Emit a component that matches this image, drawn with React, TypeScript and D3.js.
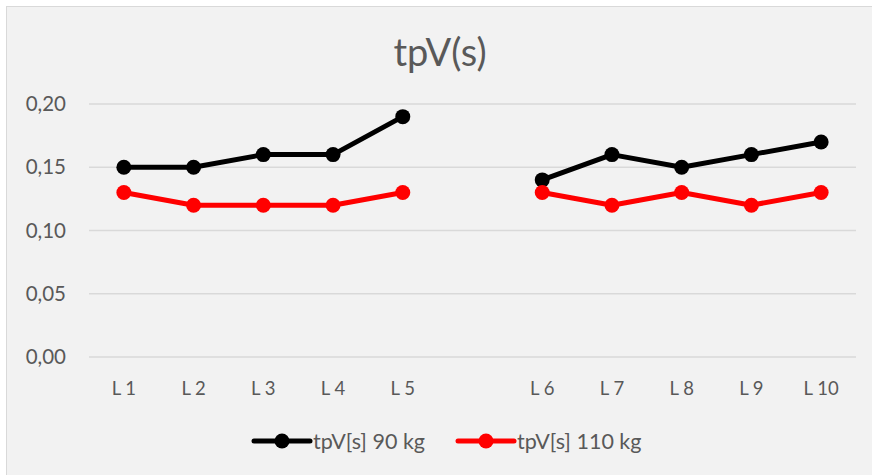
import React from "react";
import * as d3 from "d3";

const categories = ["L 1", "L 2", "L 3", "L 4", "L 5", "", "L 6", "L 7", "L 8", "L 9", "L 10"];
const series90: (number | null)[] = [0.15, 0.15, 0.16, 0.16, 0.19, null, 0.14, 0.16, 0.15, 0.16, 0.17];
const series110: (number | null)[] = [0.13, 0.12, 0.12, 0.12, 0.13, null, 0.13, 0.12, 0.13, 0.12, 0.13];
const yTicks = [0, 0.05, 0.1, 0.15, 0.2];
const seriesNames = ["tpV[s] 90 kg", "tpV[s] 110 kg"];
const title = "tpV(s)";

const W = 872, H = 475;
const FONT = "Lato, 'Open Sans', sans-serif";
const TXT = "#595959";

export default function App() {
  const x = d3.scalePoint<string>().domain(categories.map((c, i) => String(i))).range([89, 856]).padding(0.5);
  const y = d3.scaleLinear().domain([0, 0.2]).range([357, 104]);
  const line = d3
    .line<number | null>()
    .defined((d) => d !== null)
    .x((_, i) => x(String(i))!)
    .y((d) => y(d as number));
  const series = [
    { name: seriesNames[0], values: series90, color: "#000000" },
    { name: seriesNames[1], values: series110, color: "#ff0000" },
  ];
  const legendX = [254, 458];
  return (
    <svg width={W} height={H} style={{ position: "absolute", left: 0, top: 0 }} fontFamily={FONT}>
      <rect x={0} y={0} width={W} height={H} fill="#ffffff" />
      <rect x={6.5} y={6.5} width={W + 10} height={H + 10} fill="#f2f2f2" stroke="#d9d9d9" strokeWidth={1} />
      <text x={440} y={66} textAnchor="middle" fontSize={38} fill={TXT}>{title}</text>
      {yTicks.map((t) => (
        <g key={t}>
          <line x1={89} x2={856} y1={y(t)} y2={y(t)} stroke="#d9d9d9" strokeWidth={1.3} />
          <text x={66} y={y(t)} dy="0.35em" textAnchor="end" fontSize={20.5} fill={TXT}>
            {t.toFixed(2).replace(".", ",")}
          </text>
        </g>
      ))}
      {categories.map((c, i) => (
        <text key={i} x={x(String(i))!} y={389} dy="0.35em" textAnchor="middle" fontSize={18.5} fill={TXT}>{c}</text>
      ))}
      {series.map((s) => (
        <g key={s.name}>
          <path d={line(s.values) || ""} fill="none" stroke={s.color} strokeWidth={5} strokeLinejoin="round" />
          {s.values.map((v, i) =>
            v === null ? null : <circle key={i} cx={x(String(i))!} cy={y(v)} r={7.5} fill={s.color} />
          )}
        </g>
      ))}
      {series.map((s, k) => (
        <g key={s.name} transform={`translate(${legendX[k]},441)`}>
          <line x1={0} x2={56} y1={0} y2={0} stroke={s.color} strokeWidth={5} strokeLinecap="round" />
          <circle cx={28} cy={0} r={7.5} fill={s.color} />
          <text x={59} y={0} dy="0.35em" fontSize={21.5} fill={TXT}>{s.name}</text>
        </g>
      ))}
    </svg>
  );
}
